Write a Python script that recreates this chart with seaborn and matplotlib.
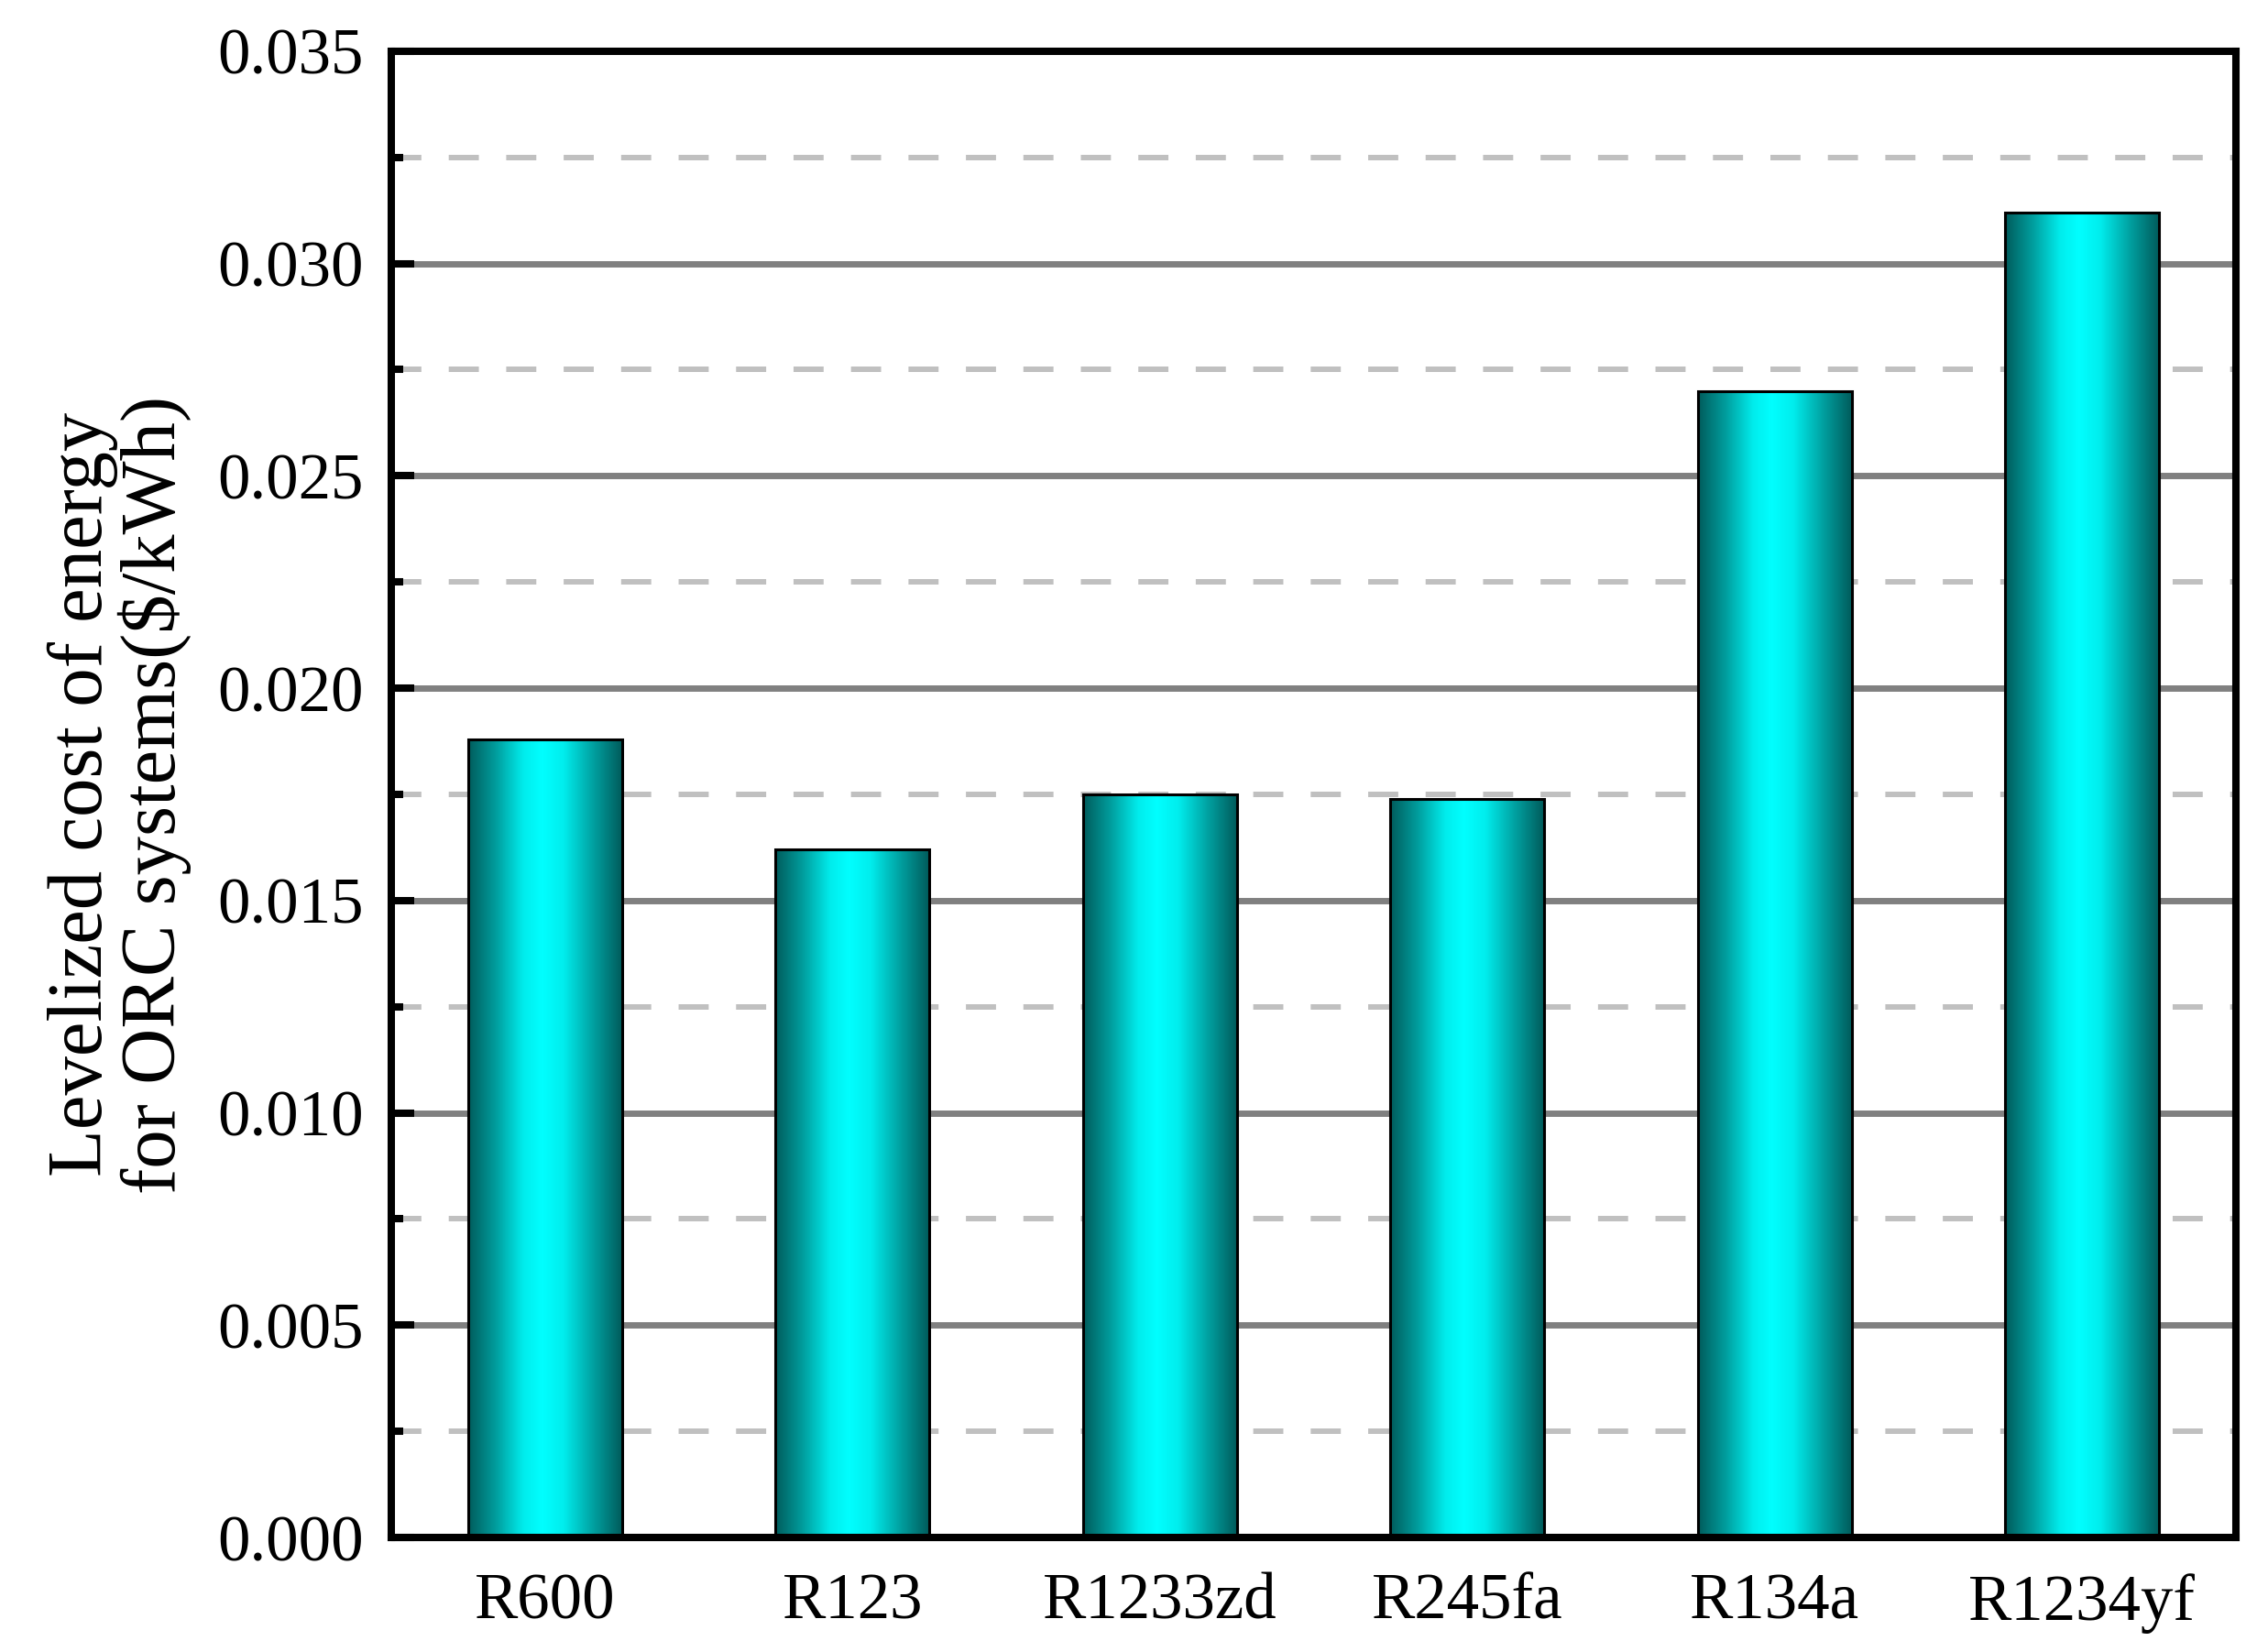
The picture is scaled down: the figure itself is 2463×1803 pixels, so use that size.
import numpy as np
import pandas as pd
import matplotlib
matplotlib.use("Agg")
import matplotlib.pyplot as plt
from matplotlib.colors import LinearSegmentedColormap
from matplotlib.ticker import MultipleLocator, AutoMinorLocator, FormatStrFormatter
import seaborn as sns

fluids = ["R600", "R123", "R1233zd", "R245fa", "R134a", "R1234yf"]
lcoe = [0.0188, 0.0162, 0.0175, 0.0174, 0.0270, 0.0312]

data = pd.DataFrame({"Fluid": fluids, "LCOE": lcoe})

sns.set_style("white")
plt.rcParams["font.family"] = ["Liberation Serif", "DejaVu Serif"]
plt.rcParams["text.color"] = "black"
plt.rcParams["axes.labelcolor"] = "black"
plt.rcParams["xtick.color"] = "black"
plt.rcParams["ytick.color"] = "black"

fig = plt.figure(figsize=(24.63, 18.03), dpi=100)
ax = fig.add_axes([0.1734, 0.0693, 0.8173, 0.8997])

sns.barplot(x="Fluid", y="LCOE", data=data, width=0.5, color="white",
            edgecolor="black", linewidth=2.2, ax=ax, zorder=3)

# teal -> cyan -> teal fill, like the original gradient bars
def teal(v):
    return (0.0, v, v)

cyan_cmap = LinearSegmentedColormap.from_list(
    "tealcyan", [(0.0, teal(0.36)), (0.18, teal(0.62)), (0.36, teal(0.93)),
                 (0.48, teal(1.0)), (0.62, teal(0.93)), (0.82, teal(0.62)),
                 (1.0, teal(0.36))])
grad = np.linspace(0, 1, 256).reshape(1, -1)
for bar in ax.patches:
    bar.set_facecolor("none")
    bar.set_edgecolor("black")
    x0, y0 = bar.get_x(), bar.get_y()
    w, h = bar.get_width(), bar.get_height()
    im = ax.imshow(grad, cmap=cyan_cmap, aspect="auto",
                   extent=[x0, x0 + w, y0, y0 + h], zorder=2.5,
                   interpolation="bilinear")
    im.set_clip_path(bar)

ax.set_xlim(-0.5, len(fluids) - 0.5)
ax.set_ylim(0, 0.035)

ax.yaxis.set_major_locator(MultipleLocator(0.005))
ax.yaxis.set_minor_locator(AutoMinorLocator(2))
ax.yaxis.set_major_formatter(FormatStrFormatter("%.3f"))

ax.set_axisbelow(True)
ax.yaxis.grid(True, which="major", color="#808080", linewidth=5, linestyle="-")
ax.yaxis.grid(True, which="minor", color="#c0c0c0", linewidth=4.3,
              linestyle=(0, (5.5, 5)))
ax.xaxis.grid(False)

for s in ax.spines.values():
    s.set_linewidth(5.8)
    s.set_color("black")

ax.tick_params(axis="y", which="major", direction="in", length=18, width=5.8,
               labelsize=51, pad=22, left=True, right=False,
               colors="black")
ax.tick_params(axis="y", which="minor", direction="in", length=9, width=5.8,
               left=True, right=False, colors="black")
ax.tick_params(axis="x", which="both", length=0, labelsize=51, pad=28,
               colors="black")

ax.set_xlabel("")
ax.set_ylabel("Levelized cost of energy\nfor ORC systems($/kWh)",
              fontsize=61, linespacing=1.0, labelpad=20, color="black")

fig.savefig("out.png", dpi=100)
